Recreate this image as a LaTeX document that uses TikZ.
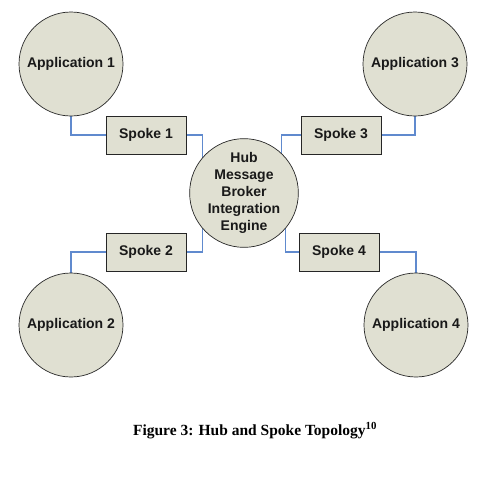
\documentclass[tikz,border=0pt]{standalone}
\usepackage{fontspec}
\setmainfont{Liberation Serif}
\newfontfamily\arialfont{Liberation Sans}
\usepackage{xcolor}
\usepackage{tikz}
\usetikzlibrary{positioning,backgrounds}
\definecolor{appfill}{RGB}{224,224,210}
\definecolor{linkblue}{RGB}{96,138,206}
\begin{document}
\begin{tikzpicture}[x=1pt,y=-1pt,
app/.style={shape=circle,fill=appfill,draw=black!85,line width=0.7pt,minimum size=104pt,inner sep=0pt,font=\arialfont\bfseries\fontsize{14}{17}\selectfont,text=black!90},
spokebox/.style={shape=rectangle,fill=appfill,draw=black!85,line width=0.9pt,minimum width=80pt,minimum height=38pt,inner sep=0pt,font=\arialfont\bfseries\fontsize{14}{17}\selectfont,text=black!90},
link/.style={draw=linkblue,line width=1.1pt}]
\useasboundingbox (0,0) rectangle (477,477);
\node[app] (app1) at (71,64) {Application 1};
\node[app] (app3) at (415,64) {Application 3};
\node[app] (app2) at (71,325) {Application 2};
\node[app] (app4) at (416,325) {Application 4};
\node[app,align=center] (hub) at (244,193) {Hub\\Message\\Broker\\Integration\\Engine};
\node[spokebox] (s1) at (146,135) {Spoke 1};
\node[spokebox] (s3) at (341,135) {Spoke 3};
\node[spokebox] (s2) at (146,252) {Spoke 2};
\node[spokebox] (s4) at (339,252) {Spoke 4};
\begin{pgfonlayer}{background}
\draw[link](app1.south)|-(s1.west);
\draw[link](s1.east)-|(hub.140);
\draw[link](app3.south)|-(s3.east);
\draw[link](s3.west)-|(hub.47);
\draw[link](app2.north)|-(s2.west);
\draw[link](s2.east)-|(hub.-140);
\draw[link](app4.north)|-(s4.east);
\draw[link](s4.west)-|(hub.-40);
\end{pgfonlayer}
\node[font=\bfseries\fontsize{15.5}{18}\selectfont,anchor=base] (cap) at (255,435) {Figure 3: Hub and Spoke Topology\textsuperscript{10}};
\end{tikzpicture}
\end{document}
